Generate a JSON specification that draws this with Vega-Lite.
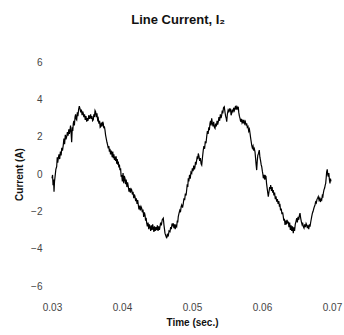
{
  "$schema": "https://vega.github.io/schema/vega-lite/v6.json",
  "autosize": "none",
  "padding": {"left": 52, "top": 62, "right": 12, "bottom": 49},
  "width": 280,
  "height": 224,
  "background": "white",
  "title": {"text": "Line Current, I₂", "font": "Liberation Sans", "fontSize": 13, "fontWeight": "bold", "color": "#111", "offset": 30, "anchor": "middle", "frame": "bounds"},
  "config": {"view": {"stroke": null}},
  "data": {"values": [
{"t":0.03000,"i":-0.23},{"t":0.03008,"i":-0.05},{"t":0.03015,"i":-0.6},{"t":0.03022,"i":-0.3},{"t":0.03029,"i":-0.95},{"t":0.03036,"i":-0.4},{"t":0.03045,"i":-0.1},{"t":0.03055,"i":0.25},{"t":0.03067,"i":0.4},{"t":0.03075,"i":0.9},{"t":0.03082,"i":0.6},{"t":0.0309,"i":0.85},{"t":0.031,"i":1.05},{"t":0.0311,"i":0.8},{"t":0.0312,"i":1.2},{"t":0.0313,"i":1.0},{"t":0.0314,"i":1.4},{"t":0.0315,"i":1.25},{"t":0.03161,"i":1.55},{"t":0.0317,"i":1.9},{"t":0.0318,"i":1.6},{"t":0.0319,"i":2.1},{"t":0.032,"i":1.85},{"t":0.0321,"i":2.0},{"t":0.0322,"i":2.25},{"t":0.0323,"i":2.05},{"t":0.0324,"i":2.4},{"t":0.03248,"i":2.15},{"t":0.03257,"i":2.35},{"t":0.03265,"i":2.6},{"t":0.03273,"i":2.2},{"t":0.03281,"i":1.7},{"t":0.0329,"i":2.5},{"t":0.03297,"i":2.3},{"t":0.03304,"i":2.7},{"t":0.03312,"i":2.85},{"t":0.0332,"i":2.6},{"t":0.03329,"i":3.05},{"t":0.03337,"i":3.2},{"t":0.03345,"i":2.95},{"t":0.03353,"i":2.9},{"t":0.03362,"i":3.3},{"t":0.0337,"i":3.1},{"t":0.0338,"i":3.45},{"t":0.0339,"i":3.64},{"t":0.034,"i":3.5},{"t":0.0341,"i":3.3},{"t":0.0342,"i":3.45},{"t":0.0343,"i":3.15},{"t":0.03438,"i":3.35},{"t":0.03447,"i":3.25},{"t":0.03455,"i":3.05},{"t":0.03465,"i":3.2},{"t":0.03475,"i":2.9},{"t":0.03485,"i":3.1},{"t":0.03496,"i":2.8},{"t":0.03505,"i":3.0},{"t":0.03515,"i":2.85},{"t":0.03525,"i":3.15},{"t":0.03535,"i":2.95},{"t":0.03543,"i":3.06},{"t":0.03552,"i":3.2},{"t":0.0356,"i":2.95},{"t":0.0357,"i":3.1},{"t":0.0358,"i":2.85},{"t":0.0359,"i":2.9},{"t":0.03598,"i":3.2},{"t":0.03606,"i":3.05},{"t":0.03615,"i":3.4},{"t":0.03624,"i":3.33},{"t":0.03632,"i":3.05},{"t":0.03642,"i":3.25},{"t":0.03652,"i":2.9},{"t":0.03661,"i":2.98},{"t":0.0367,"i":2.7},{"t":0.0368,"i":2.85},{"t":0.03688,"i":2.5},{"t":0.03696,"i":2.53},{"t":0.03705,"i":2.75},{"t":0.03715,"i":2.55},{"t":0.03725,"i":2.8},{"t":0.03733,"i":2.7},{"t":0.0374,"i":2.45},{"t":0.03748,"i":2.55},{"t":0.03757,"i":2.35},{"t":0.03765,"i":2.1},{"t":0.03775,"i":1.9},{"t":0.03785,"i":1.7},{"t":0.03795,"i":1.55},{"t":0.03804,"i":1.37},{"t":0.03812,"i":1.5},{"t":0.0382,"i":1.2},{"t":0.03828,"i":1.35},{"t":0.03836,"i":1.05},{"t":0.03845,"i":1.25},{"t":0.03853,"i":1.1},{"t":0.0386,"i":0.9},{"t":0.03868,"i":1.2},{"t":0.03876,"i":0.85},{"t":0.03884,"i":1.05},{"t":0.03892,"i":0.75},{"t":0.039,"i":0.93},{"t":0.03908,"i":0.7},{"t":0.03916,"i":0.95},{"t":0.03924,"i":0.55},{"t":0.03932,"i":0.8},{"t":0.0394,"i":0.5},{"t":0.03947,"i":0.66},{"t":0.03955,"i":0.35},{"t":0.03963,"i":0.5},{"t":0.03971,"i":0.21},{"t":0.0398,"i":0.3},{"t":0.03988,"i":-0.15},{"t":0.03996,"i":-0.05},{"t":0.04005,"i":-0.4},{"t":0.04015,"i":0.05},{"t":0.04025,"i":-0.5},{"t":0.04033,"i":-0.1},{"t":0.04043,"i":-0.23},{"t":0.04052,"i":-0.55},{"t":0.0406,"i":-0.3},{"t":0.0407,"i":-0.7},{"t":0.0408,"i":-0.45},{"t":0.0409,"i":-0.68},{"t":0.041,"i":-0.95},{"t":0.0411,"i":-0.75},{"t":0.0412,"i":-1.0},{"t":0.0413,"i":-0.8},{"t":0.04139,"i":-0.86},{"t":0.04148,"i":-1.1},{"t":0.04158,"i":-0.95},{"t":0.04168,"i":-1.3},{"t":0.04177,"i":-1.1},{"t":0.04186,"i":-1.21},{"t":0.04195,"i":-1.45},{"t":0.04205,"i":-1.3},{"t":0.04215,"i":-1.6},{"t":0.04224,"i":-1.4},{"t":0.04233,"i":-1.66},{"t":0.04242,"i":-1.9},{"t":0.04252,"i":-1.7},{"t":0.04262,"i":-1.95},{"t":0.04272,"i":-1.75},{"t":0.04281,"i":-1.83},{"t":0.0429,"i":-2.05},{"t":0.043,"i":-1.9},{"t":0.0431,"i":-2.3},{"t":0.0432,"i":-2.05},{"t":0.04329,"i":-2.2},{"t":0.04337,"i":-2.5},{"t":0.04345,"i":-2.35},{"t":0.04353,"i":-2.64},{"t":0.04362,"i":-2.8},{"t":0.04372,"i":-2.6},{"t":0.04382,"i":-2.95},{"t":0.04391,"i":-2.7},{"t":0.044,"i":-2.82},{"t":0.0441,"i":-3.05},{"t":0.0442,"i":-2.75},{"t":0.0443,"i":-3.0},{"t":0.04438,"i":-2.7},{"t":0.04447,"i":-2.9},{"t":0.04456,"i":-3.1},{"t":0.04465,"i":-2.8},{"t":0.04475,"i":-3.05},{"t":0.04486,"i":-2.85},{"t":0.04496,"i":-3.0},{"t":0.04505,"i":-2.75},{"t":0.04515,"i":-3.05},{"t":0.04525,"i":-2.8},{"t":0.04535,"i":-3.0},{"t":0.04543,"i":-2.82},{"t":0.04552,"i":-2.6},{"t":0.04562,"i":-2.75},{"t":0.04575,"i":-2.45},{"t":0.0459,"i":-2.37},{"t":0.046,"i":-2.75},{"t":0.04607,"i":-2.95},{"t":0.04614,"i":-3.17},{"t":0.04625,"i":-3.3},{"t":0.04639,"i":-3.44},{"t":0.04648,"i":-3.2},{"t":0.0466,"i":-3.35},{"t":0.04672,"i":-3.05},{"t":0.04686,"i":-3.09},{"t":0.04695,"i":-2.85},{"t":0.04705,"i":-2.95},{"t":0.04715,"i":-2.65},{"t":0.04725,"i":-2.8},{"t":0.04733,"i":-2.64},{"t":0.04742,"i":-2.9},{"t":0.0475,"i":-2.7},{"t":0.0476,"i":-2.95},{"t":0.0477,"i":-2.75},{"t":0.04781,"i":-2.82},{"t":0.0479,"i":-2.5},{"t":0.04796,"i":-2.6},{"t":0.04804,"i":-2.28},{"t":0.04815,"i":-2.1},{"t":0.04825,"i":-1.95},{"t":0.04835,"i":-2.05},{"t":0.04845,"i":-1.75},{"t":0.04853,"i":-1.66},{"t":0.04865,"i":-1.8},{"t":0.04876,"i":-1.57},{"t":0.04885,"i":-1.3},{"t":0.04895,"i":-1.4},{"t":0.04905,"i":-1.05},{"t":0.04915,"i":-1.15},{"t":0.04924,"i":-0.86},{"t":0.04932,"i":-0.55},{"t":0.0494,"i":-0.7},{"t":0.04947,"i":-0.23},{"t":0.04955,"i":-0.4},{"t":0.04965,"i":-0.05},{"t":0.04975,"i":-0.25},{"t":0.04985,"i":0.1},{"t":0.04996,"i":0.04},{"t":0.05005,"i":0.3},{"t":0.05015,"i":0.15},{"t":0.05025,"i":0.45},{"t":0.05035,"i":0.25},{"t":0.05043,"i":0.39},{"t":0.0505,"i":0.65},{"t":0.05058,"i":0.5},{"t":0.05067,"i":0.75},{"t":0.05075,"i":0.95},{"t":0.05082,"i":0.8},{"t":0.0509,"i":1.1},{"t":0.051,"i":0.95},{"t":0.0511,"i":0.7},{"t":0.0512,"i":0.85},{"t":0.0513,"i":0.55},{"t":0.05139,"i":0.48},{"t":0.0515,"i":0.9},{"t":0.05161,"i":1.28},{"t":0.0517,"i":1.5},{"t":0.0518,"i":1.35},{"t":0.0519,"i":1.75},{"t":0.052,"i":1.65},{"t":0.0521,"i":2.0},{"t":0.0522,"i":2.3},{"t":0.0523,"i":2.15},{"t":0.0524,"i":2.5},{"t":0.05248,"i":2.35},{"t":0.05257,"i":2.71},{"t":0.05265,"i":2.85},{"t":0.05273,"i":2.6},{"t":0.05281,"i":2.98},{"t":0.0529,"i":2.75},{"t":0.053,"i":2.55},{"t":0.0531,"i":2.8},{"t":0.0532,"i":2.5},{"t":0.05329,"i":2.44},{"t":0.05338,"i":2.7},{"t":0.05348,"i":2.55},{"t":0.05358,"i":2.85},{"t":0.05367,"i":2.65},{"t":0.05376,"i":2.8},{"t":0.05385,"i":3.05},{"t":0.05395,"i":2.85},{"t":0.05405,"i":3.2},{"t":0.05415,"i":3.0},{"t":0.05424,"i":3.15},{"t":0.05432,"i":3.4},{"t":0.0544,"i":3.25},{"t":0.0545,"i":3.55},{"t":0.05461,"i":3.6},{"t":0.0547,"i":3.35},{"t":0.0548,"i":3.1},{"t":0.05488,"i":3.0},{"t":0.05496,"i":2.8},{"t":0.05505,"i":3.2},{"t":0.05515,"i":3.4},{"t":0.05525,"i":3.3},{"t":0.05533,"i":3.51},{"t":0.05542,"i":3.35},{"t":0.0555,"i":3.5},{"t":0.05558,"i":3.15},{"t":0.05567,"i":3.25},{"t":0.05575,"i":3.45},{"t":0.05585,"i":3.3},{"t":0.05595,"i":3.55},{"t":0.05605,"i":3.4},{"t":0.05614,"i":3.51},{"t":0.05622,"i":3.65},{"t":0.05632,"i":3.45},{"t":0.05642,"i":3.6},{"t":0.05652,"i":3.5},{"t":0.05661,"i":3.6},{"t":0.05668,"i":3.3},{"t":0.05677,"i":3.1},{"t":0.05686,"i":2.98},{"t":0.05695,"i":2.8},{"t":0.05705,"i":2.95},{"t":0.05715,"i":2.75},{"t":0.05725,"i":2.85},{"t":0.05733,"i":2.71},{"t":0.05742,"i":2.9},{"t":0.05752,"i":2.7},{"t":0.05762,"i":2.8},{"t":0.05772,"i":2.6},{"t":0.05781,"i":2.71},{"t":0.0579,"i":2.5},{"t":0.058,"i":2.55},{"t":0.0581,"i":2.3},{"t":0.0582,"i":2.4},{"t":0.05829,"i":2.18},{"t":0.05837,"i":1.95},{"t":0.05845,"i":1.75},{"t":0.05853,"i":1.55},{"t":0.05862,"i":1.4},{"t":0.05872,"i":1.5},{"t":0.05882,"i":1.25},{"t":0.05891,"i":1.35},{"t":0.059,"i":1.19},{"t":0.05908,"i":0.85},{"t":0.05916,"i":0.5},{"t":0.05924,"i":0.21},{"t":0.05932,"i":0.7},{"t":0.0594,"i":1.0},{"t":0.0595,"i":1.1},{"t":0.05961,"i":1.28},{"t":0.0597,"i":0.9},{"t":0.0598,"i":0.7},{"t":0.05988,"i":0.5},{"t":0.05996,"i":0.39},{"t":0.06005,"i":0.15},{"t":0.06012,"i":0.0},{"t":0.06019,"i":-0.23},{"t":0.0603,"i":-0.05},{"t":0.0604,"i":-0.3},{"t":0.06048,"i":-0.1},{"t":0.06057,"i":-0.14},{"t":0.06065,"i":-0.5},{"t":0.06075,"i":-0.8},{"t":0.06082,"i":-1.0},{"t":0.0609,"i":-1.21},{"t":0.061,"i":-0.95},{"t":0.0611,"i":-0.7},{"t":0.06118,"i":-0.8},{"t":0.06124,"i":-0.59},{"t":0.06135,"i":-0.9},{"t":0.06145,"i":-0.7},{"t":0.06152,"i":-1.0},{"t":0.06161,"i":-0.86},{"t":0.0617,"i":-1.15},{"t":0.0618,"i":-1.0},{"t":0.0619,"i":-1.35},{"t":0.062,"i":-1.2},{"t":0.0621,"i":-1.48},{"t":0.0622,"i":-1.35},{"t":0.0623,"i":-1.6},{"t":0.0624,"i":-1.45},{"t":0.06248,"i":-1.7},{"t":0.06257,"i":-1.66},{"t":0.06265,"i":-1.95},{"t":0.06275,"i":-1.85},{"t":0.06285,"i":-2.15},{"t":0.06295,"i":-2.05},{"t":0.06304,"i":-2.28},{"t":0.06312,"i":-2.5},{"t":0.0632,"i":-2.4},{"t":0.06329,"i":-2.73},{"t":0.06338,"i":-2.5},{"t":0.06348,"i":-2.7},{"t":0.06358,"i":-2.45},{"t":0.06367,"i":-2.65},{"t":0.06376,"i":-2.55},{"t":0.06385,"i":-2.85},{"t":0.06395,"i":-2.6},{"t":0.06405,"i":-3.0},{"t":0.06415,"i":-2.75},{"t":0.06425,"i":-3.05},{"t":0.06435,"i":-2.8},{"t":0.06447,"i":-3.17},{"t":0.06455,"i":-2.85},{"t":0.06465,"i":-3.05},{"t":0.06475,"i":-2.7},{"t":0.06485,"i":-2.55},{"t":0.06496,"i":-2.37},{"t":0.06505,"i":-2.6},{"t":0.06515,"i":-2.3},{"t":0.06525,"i":-2.45},{"t":0.06535,"i":-2.2},{"t":0.06543,"i":-2.1},{"t":0.06552,"i":-2.35},{"t":0.06562,"i":-2.55},{"t":0.06572,"i":-2.7},{"t":0.0658,"i":-2.6},{"t":0.0659,"i":-2.82},{"t":0.066,"i":-2.9},{"t":0.0661,"i":-2.7},{"t":0.0662,"i":-2.85},{"t":0.0663,"i":-2.65},{"t":0.06639,"i":-2.73},{"t":0.06648,"i":-2.9},{"t":0.06658,"i":-2.75},{"t":0.06668,"i":-2.95},{"t":0.06677,"i":-2.7},{"t":0.06686,"i":-2.82},{"t":0.06695,"i":-2.6},{"t":0.06702,"i":-2.45},{"t":0.0671,"i":-2.28},{"t":0.0672,"i":-2.1},{"t":0.0673,"i":-2.0},{"t":0.0674,"i":-1.85},{"t":0.06748,"i":-1.75},{"t":0.06757,"i":-1.66},{"t":0.06766,"i":-1.5},{"t":0.06776,"i":-1.55},{"t":0.06786,"i":-1.35},{"t":0.06795,"i":-1.3},{"t":0.06804,"i":-1.21},{"t":0.06815,"i":-1.4},{"t":0.06825,"i":-1.3},{"t":0.06835,"i":-1.5},{"t":0.06845,"i":-1.35},{"t":0.06853,"i":-1.39},{"t":0.06862,"i":-1.15},{"t":0.0687,"i":-1.2},{"t":0.06876,"i":-1.03},{"t":0.06885,"i":-0.85},{"t":0.06895,"i":-0.75},{"t":0.06903,"i":-0.6},{"t":0.0691,"i":-0.5},{"t":0.06917,"i":-0.2},{"t":0.06924,"i":0.12},{"t":0.06932,"i":0.25},{"t":0.0694,"i":-0.05},{"t":0.06947,"i":-0.14},{"t":0.06955,"i":0.05},{"t":0.06963,"i":-0.3},{"t":0.06971,"i":-0.5},{"t":0.06978,"i":-0.25},{"t":0.06985,"i":-0.4}
  ]},
  "mark": {"type": "line", "color": "#000", "strokeWidth": 1.2, "interpolate": "linear"},
  "encoding": {
    "x": {"field": "t", "type": "quantitative", "scale": {"domain": [0.03, 0.07], "nice": false, "zero": false},
      "axis": {"title": "Time (sec.)", "values": [0.03, 0.04, 0.05, 0.06, 0.07], "format": ".2f", "domain": false, "ticks": false, "tickSize": 0, "grid": false, "labelPadding": 16, "labelFont": "Liberation Sans", "labelFontSize": 10, "labelColor": "#444", "titleFont": "Liberation Sans", "titleFontSize": 10, "titleFontWeight": "bold", "titleColor": "#111", "titlePadding": 5, "labelFlush": false}},
    "y": {"field": "i", "type": "quantitative", "scale": {"domain": [-6, 6], "nice": false},
      "axis": {"title": "Current (A)", "values": [-6, -4, -2, 0, 2, 4, 6], "domain": false, "ticks": false, "tickSize": 0, "grid": false, "labelPadding": 10, "labelFont": "Liberation Sans", "labelFontSize": 10, "labelColor": "#444", "titleFont": "Liberation Sans", "titleFontSize": 10, "titleFontWeight": "bold", "titleColor": "#111", "titlePadding": 6, "labelFlush": false}}
  }
}
